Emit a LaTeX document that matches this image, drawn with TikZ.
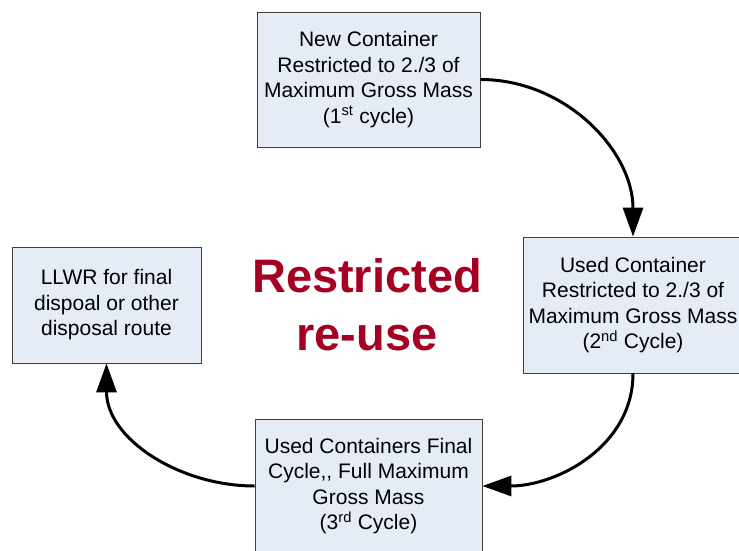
\documentclass[tikz,border=0pt]{standalone}
\usepackage{fontspec}
\setmainfont{Liberation Sans}
\usetikzlibrary{arrows.meta}
\definecolor{boxfill}{RGB}{230,236,246}
\definecolor{boxline}{RGB}{64,64,64}
\definecolor{reuse}{RGB}{165,0,33}
\begin{document}
\begin{tikzpicture}[x=1pt,y=-1pt,
  cyclebox/.style={draw=boxline,fill=boxfill,line width=0.8pt,align=center,
    inner sep=0pt,font=\fontsize{21}{25.5}\selectfont},
  cyclearrow/.style={line width=3pt,-{Triangle[length=29pt,width=20pt]}}]
\useasboundingbox (0,0) rectangle (739,551);

% Cycle boxes
\node[cyclebox,minimum width=223pt,minimum height=135pt] (new) at (368.5,79.5)
  {New Container\\Restricted to 2./3 of\\Maximum Gross Mass\\(1\textsuperscript{st} cycle)};
\node[cyclebox,minimum width=220pt,minimum height=136pt] (used) at (633,305)
  {Used Container\\Restricted to 2./3 of\\Maximum Gross Mass\\(2\textsuperscript{nd} Cycle)};
\node[cyclebox,minimum width=227pt,minimum height=134pt] (final) at (368.5,486)
  {Used Containers Final\\Cycle,{}, Full Maximum\\Gross Mass\\(3\textsuperscript{rd} Cycle)};
\node[cyclebox,minimum width=189pt,minimum height=116pt] (llwr) at (106.5,305)
  {LLWR for final\\dispoal or other\\disposal route};

% Centre label
\node[text=reuse,align=center,font=\fontsize{47}{58}\selectfont\bfseries] (title) at (367,305)
  {Restricted\\re-use};

% Connectors
\draw[cyclearrow] (new.east) to[out=0,in=90] (used.north);
\draw[cyclearrow] (used.south) to[out=-90,in=0] (final.east);
\draw[cyclearrow] (final.west) to[out=180,in=-90] (llwr.south);

\end{tikzpicture}
\end{document}
